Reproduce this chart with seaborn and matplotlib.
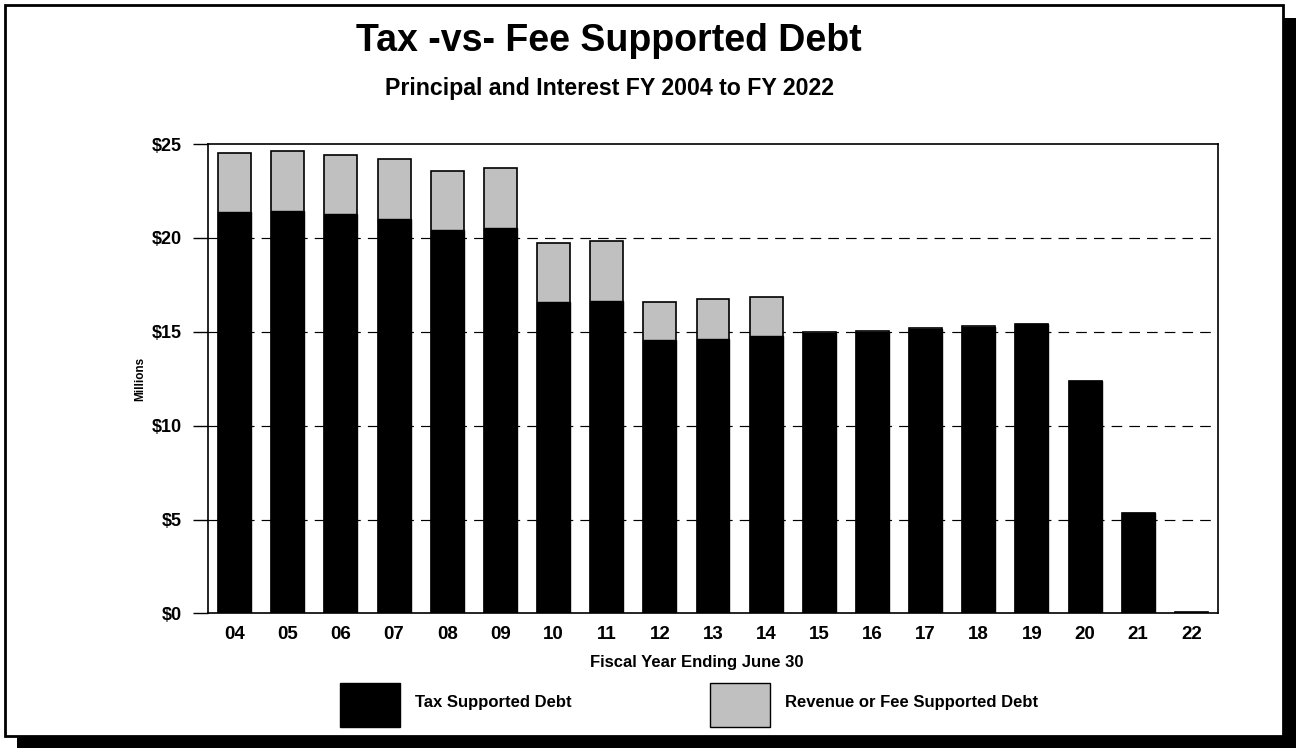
import pandas as pd
import seaborn as sns
import matplotlib.pyplot as plt
from matplotlib.patches import Rectangle, Patch

years = ["04", "05", "06", "07", "08", "09", "10", "11", "12", "13",
         "14", "15", "16", "17", "18", "19", "20", "21", "22"]
tax = [21.38, 21.44, 21.28, 21.01, 20.43, 20.52, 16.56, 16.65, 14.57, 14.64,
       14.75, 14.93, 14.98, 15.15, 15.27, 15.40, 12.36, 5.32, 0.0]
fee = [3.17, 3.19, 3.16, 3.22, 3.16, 3.21, 3.16, 3.21, 2.02, 2.08,
       2.08, 0.05, 0.05, 0.04, 0.03, 0.04, 0.04, 0.03, 0.08]
yticks = [0, 5, 10, 15, 20, 25]

df = pd.DataFrame({"Year": years, "Tax": tax, "Fee": fee})
df["Total"] = df["Tax"] + df["Fee"]

sns.set_style("white")
plt.rcParams["font.family"] = ["Liberation Sans", "DejaVu Sans"]
plt.rcParams["font.weight"] = "bold"
for key in ["text.color", "axes.labelcolor", "xtick.color", "ytick.color"]:
    plt.rcParams[key] = "black"

fig = plt.figure(figsize=(12.96, 7.48), dpi=100)

# framed box with drop shadow
fig.patches.append(Rectangle((17 / 1296, 0), 1279 / 1296, 730 / 748,
                             transform=fig.transFigure, facecolor="black",
                             edgecolor="none", zorder=0))
fig.patches.append(Rectangle((5 / 1296, 12 / 748), 1278 / 1296, 731 / 748,
                             transform=fig.transFigure, facecolor="white",
                             edgecolor="black", linewidth=2, zorder=1))

ax = fig.add_axes([0.1605, 0.18, 0.7793, 0.6274])
ax.set_zorder(2)

sns.barplot(data=df, x="Year", y="Total", color="#c0c0c0", saturation=1,
            edgecolor="black", linewidth=1.2, width=0.62, ax=ax)
sns.barplot(data=df, x="Year", y="Tax", color="black", saturation=1,
            edgecolor="black", linewidth=1.0, width=0.62, ax=ax)

ax.set_xlim(-0.5, len(years) - 0.5)
ax.set_ylim(0, 25)
ax.set_yticks(yticks)
ax.set_yticklabels([f"${v}" for v in yticks], fontsize=13, fontweight="bold")
ax.tick_params(axis="y", length=11, width=1, color="black", pad=8, direction="out", left=True)
ax.tick_params(axis="x", length=0, pad=9, labelsize=13.5)
for lab in ax.get_xticklabels():
    lab.set_fontweight("bold")

for v in yticks[1:-1]:
    ax.axhline(v, color="black", linewidth=0.85, linestyle=(0, (9, 6)), zorder=0)
ax.set_axisbelow(True)

for s in ax.spines.values():
    s.set_visible(True)
    s.set_color("black")
    s.set_linewidth(1.2)

ax.set_xlabel("Fiscal Year Ending June 30", fontsize=12, fontweight="bold")
ax.xaxis.set_label_coords((697 - 208) / 1010, -0.089)
ax.set_ylabel("Millions", fontsize=8.5, fontweight="bold", labelpad=4)

fig.text(0.47, 0.945, "Tax -vs- Fee Supported Debt", ha="center", va="center",
         fontsize=27, fontweight="bold", zorder=3)
fig.text(0.47, 0.882, "Principal and Interest FY 2004 to FY 2022", ha="center",
         va="center", fontsize=16.7, fontweight="bold", zorder=3)

handles = [Patch(facecolor="black", edgecolor="black"),
           Patch(facecolor="#c0c0c0", edgecolor="black")]
leg = fig.legend(handles, ["Tax Supported Debt", "Revenue or Fee Supported Debt"],
                 loc="center left", bbox_to_anchor=(340 / 1296, 1 - 705 / 748),
                 ncol=2, frameon=False, fontsize=12, handlelength=3.6,
                 handleheight=3.7, handletextpad=0.9, columnspacing=8.3,
                 borderaxespad=0, borderpad=0)
for t in leg.get_texts():
    t.set_fontweight("bold")
    t.set_va("bottom")

fig.savefig("out.png", dpi=100)
